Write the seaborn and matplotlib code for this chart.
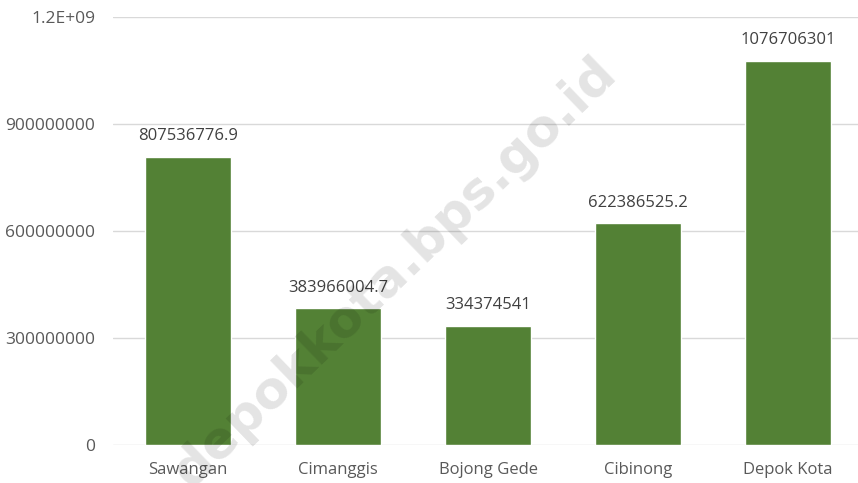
import matplotlib
matplotlib.use("Agg")
import matplotlib.pyplot as plt
import seaborn as sns

# data
districts = ["Sawangan", "Cimanggis", "Bojong Gede", "Cibinong", "Depok Kota"]
values = [807536776.9, 383966004.7, 334374541, 622386525.2, 1076706301]
value_labels = ["807536776.9", "383966004.7", "334374541", "622386525.2", "1076706301"]
y_ticks = [0, 300000000, 600000000, 900000000, 1200000000]
y_tick_labels = ["0", "300000000", "600000000", "900000000", "1.2E+09"]

sns.set_style("white")
plt.rcParams["font.family"] = ["Open Sans", "DejaVu Sans"]

fig = plt.figure(figsize=(8.58, 4.83), dpi=100)
ax = fig.add_axes([113 / 858, 1 - 445 / 483, 750 / 858, 428 / 483])

sns.barplot(x=districts, y=values, color="#538135", saturation=1,
            width=0.567, ax=ax, zorder=2)

ax.set_ylim(0, 1.2e9)
ax.set_xlim(-0.5, 4.5)
ax.set_yticks(y_ticks)
ax.set_yticklabels(y_tick_labels)
ax.grid(True, axis="y", color="#d9d9d9", linewidth=1, zorder=0)
ax.grid(False, axis="x")
for side in ["top", "right", "left", "bottom"]:
    ax.spines[side].set_visible(False)
ax.tick_params(axis="y", length=0, pad=13, labelsize=12.5, labelcolor="#595959")
ax.tick_params(axis="x", length=0, pad=12, labelsize=12, labelcolor="#595959")
ax.set_xlabel("")
ax.set_ylabel("")

ax.bar_label(ax.containers[0], labels=value_labels, padding=9,
             fontsize=12, color="#404040")

# watermark
fig.text(609 / 858, 1 - 66 / 483, "depokkota.bps.go.id",
         rotation=44, rotation_mode="anchor", ha="right", va="center",
         fontsize=37, fontweight="bold", family="DejaVu Sans",
         color="black", alpha=0.11, zorder=5)

fig.savefig("out.png", dpi=100)
